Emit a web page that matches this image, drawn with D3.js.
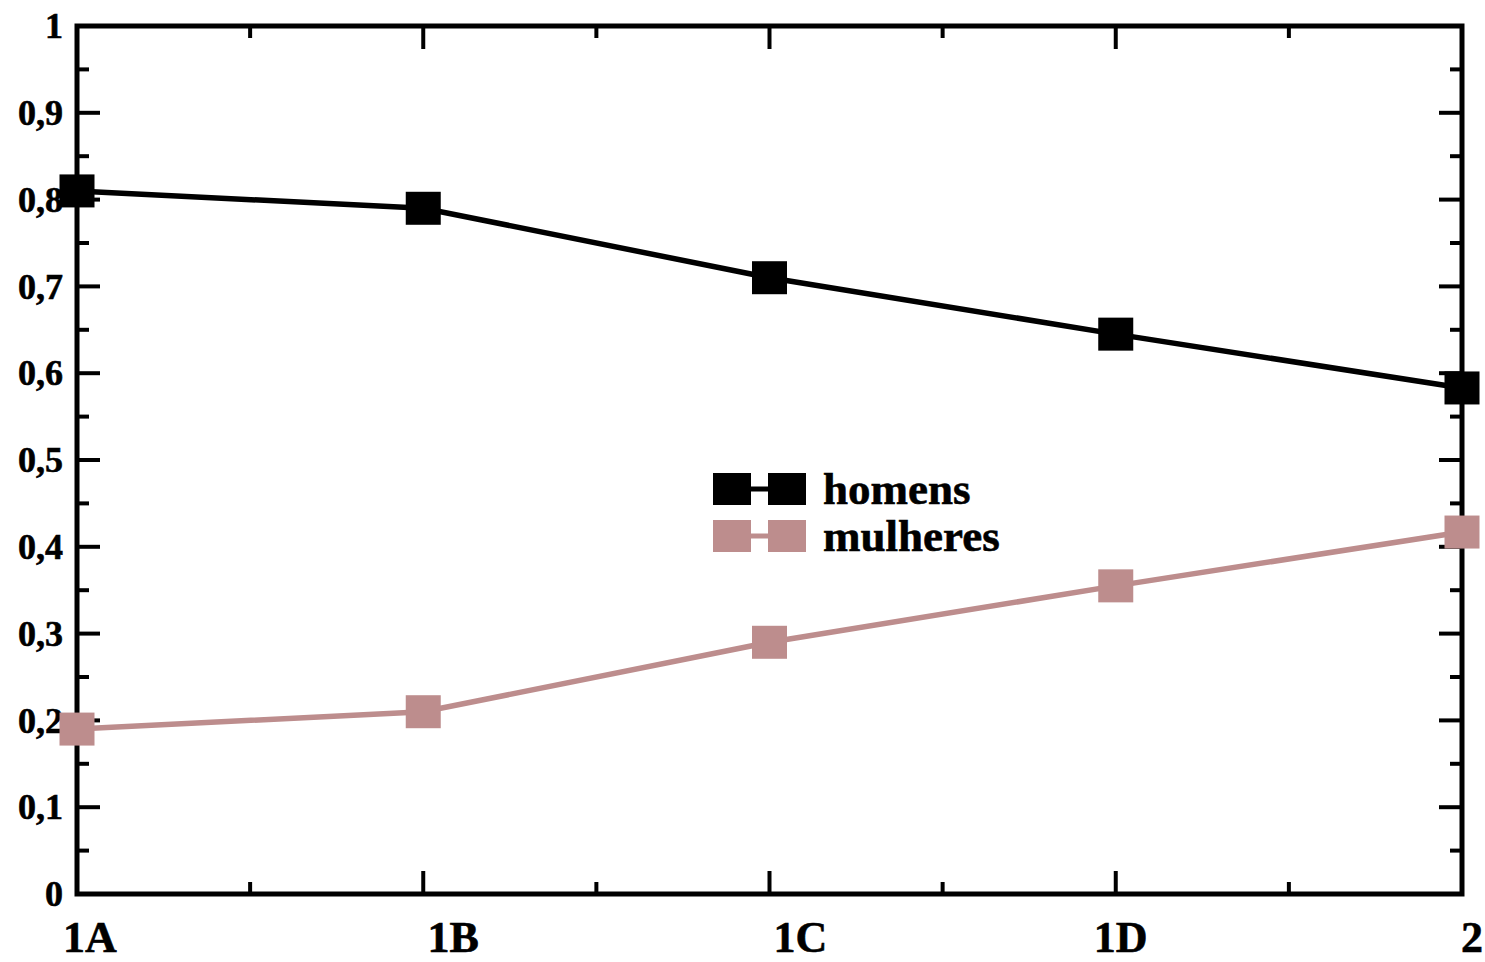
<!DOCTYPE html>
<html>
<head>
<meta charset="utf-8">
<script src="https://cdn.jsdelivr.net/npm/d3@7"></script>
<style>
  html, body { margin: 0; padding: 0; background: #fff; }
  svg { display: block; }
  text { font-family: "Liberation Serif", "DejaVu Serif", serif; font-weight: bold; fill: #000; stroke: #000; stroke-width: 0.6px; }
</style>
</head>
<body>
<svg id="chart" width="1485" height="962"></svg>
<script>
// ---- data ----
const categories = ["1A", "1B", "1C", "1D", "2"];
const homens   = [0.81, 0.79, 0.71, 0.645, 0.583];
const mulheres = [0.19, 0.21, 0.29, 0.355, 0.417];
const yTickValues = [0, 0.1, 0.2, 0.3, 0.4, 0.5, 0.6, 0.7, 0.8, 0.9, 1];
const yTickLabels = ["0", "0,1", "0,2", "0,3", "0,4", "0,5", "0,6", "0,7", "0,8", "0,9", "1"];
const seriesNames = ["homens", "mulheres"];
const seriesColors = ["#000000", "#bd8d8d"];

// ---- layout ----
const L = 77, R = 1462, T = 26, B = 894;
const svg = d3.select("#chart");

const x = d3.scalePoint().domain(categories).range([L, R]);
const y = d3.scaleLinear().domain([0, 1]).range([B, T]);

const majorLen = 23, minorLen = 12, tickW = 4;

// minor tick positions (midpoints between categories, and half-steps on y)
const xMinor = categories.slice(1).map((c, i) => (x(categories[i]) + x(c)) / 2);
const yMinor = yTickValues.slice(1).map((v, i) => (yTickValues[i] + v) / 2);

const g = svg.append("g");

function hTicks(data, x0, len) {
  g.append("g").selectAll("line").data(data).enter().append("line")
    .attr("x1", x0).attr("x2", x0 + len)
    .attr("y1", d => y(d)).attr("y2", d => y(d))
    .attr("stroke", "#000").attr("stroke-width", tickW);
}
function vTicks(data, y0, len, pos) {
  g.append("g").selectAll("line").data(data).enter().append("line")
    .attr("x1", pos).attr("x2", pos)
    .attr("y1", y0).attr("y2", y0 + len)
    .attr("stroke", "#000").attr("stroke-width", tickW);
}
hTicks(yTickValues, L, majorLen);
hTicks(yMinor, L, minorLen);
hTicks(yTickValues, R, -majorLen);
hTicks(yMinor, R, -minorLen);
vTicks(categories, B, -majorLen, d => x(d));
vTicks(xMinor, B, -minorLen, d => d);
vTicks(categories, T, majorLen, d => x(d));
vTicks(xMinor, T, minorLen, d => d);

// frame
g.append("rect")
  .attr("x", L).attr("y", T).attr("width", R - L).attr("height", B - T)
  .attr("fill", "none").attr("stroke", "#000").attr("stroke-width", 5);

// y labels
g.selectAll(".ylab").data(yTickValues).enter().append("text")
  .attr("x", L - 14).attr("y", d => y(d))
  .attr("dy", "0.34em")
  .attr("text-anchor", "end")
  .style("font-size", "36px")
  .text((d, i) => yTickLabels[i]);

// x labels (slight per-label nudges as in the original)
const xLabelNudge = [13, 30, 31, 5, 10];
g.selectAll(".xlab").data(categories).enter().append("text")
  .attr("x", (d, i) => x(d) + xLabelNudge[i])
  .attr("y", 952)
  .attr("text-anchor", "middle")
  .style("font-size", "44px")
  .text(d => d);

// series
const series = [homens, mulheres];
const line = d3.line().x((d, i) => x(categories[i])).y(d => y(d));
const mw = 35, mh = 33;

series.forEach((vals, si) => {
  g.append("path").datum(vals)
    .attr("d", line)
    .attr("fill", "none")
    .attr("stroke", seriesColors[si])
    .attr("stroke-width", 5.5);
});
series.forEach((vals, si) => {
  g.selectAll(".m" + si).data(vals).enter().append("rect")
    .attr("x", (d, i) => x(categories[i]) - mw / 2)
    .attr("y", d => y(d) - mh / 2)
    .attr("width", mw).attr("height", mh)
    .attr("fill", seriesColors[si]);
});

// legend
const legX = 713, legY0 = 489, legDY = 47;
const leg = g.selectAll(".leg").data(seriesNames).enter().append("g")
  .attr("transform", (d, i) => `translate(${legX},${legY0 + i * legDY})`);
leg.append("line")
  .attr("x1", 18).attr("x2", 74).attr("y1", 0).attr("y2", 0)
  .attr("stroke", (d, i) => seriesColors[i]).attr("stroke-width", 5);
leg.append("rect")
  .attr("x", 0).attr("y", -16).attr("width", 38).attr("height", 32)
  .attr("fill", (d, i) => seriesColors[i]);
leg.append("rect")
  .attr("x", 55).attr("y", -16).attr("width", 38).attr("height", 32)
  .attr("fill", (d, i) => seriesColors[i]);
leg.append("text")
  .attr("x", 110).attr("y", 15)
  .style("font-size", "45px")
  .text(d => d);
</script>
</body>
</html>
